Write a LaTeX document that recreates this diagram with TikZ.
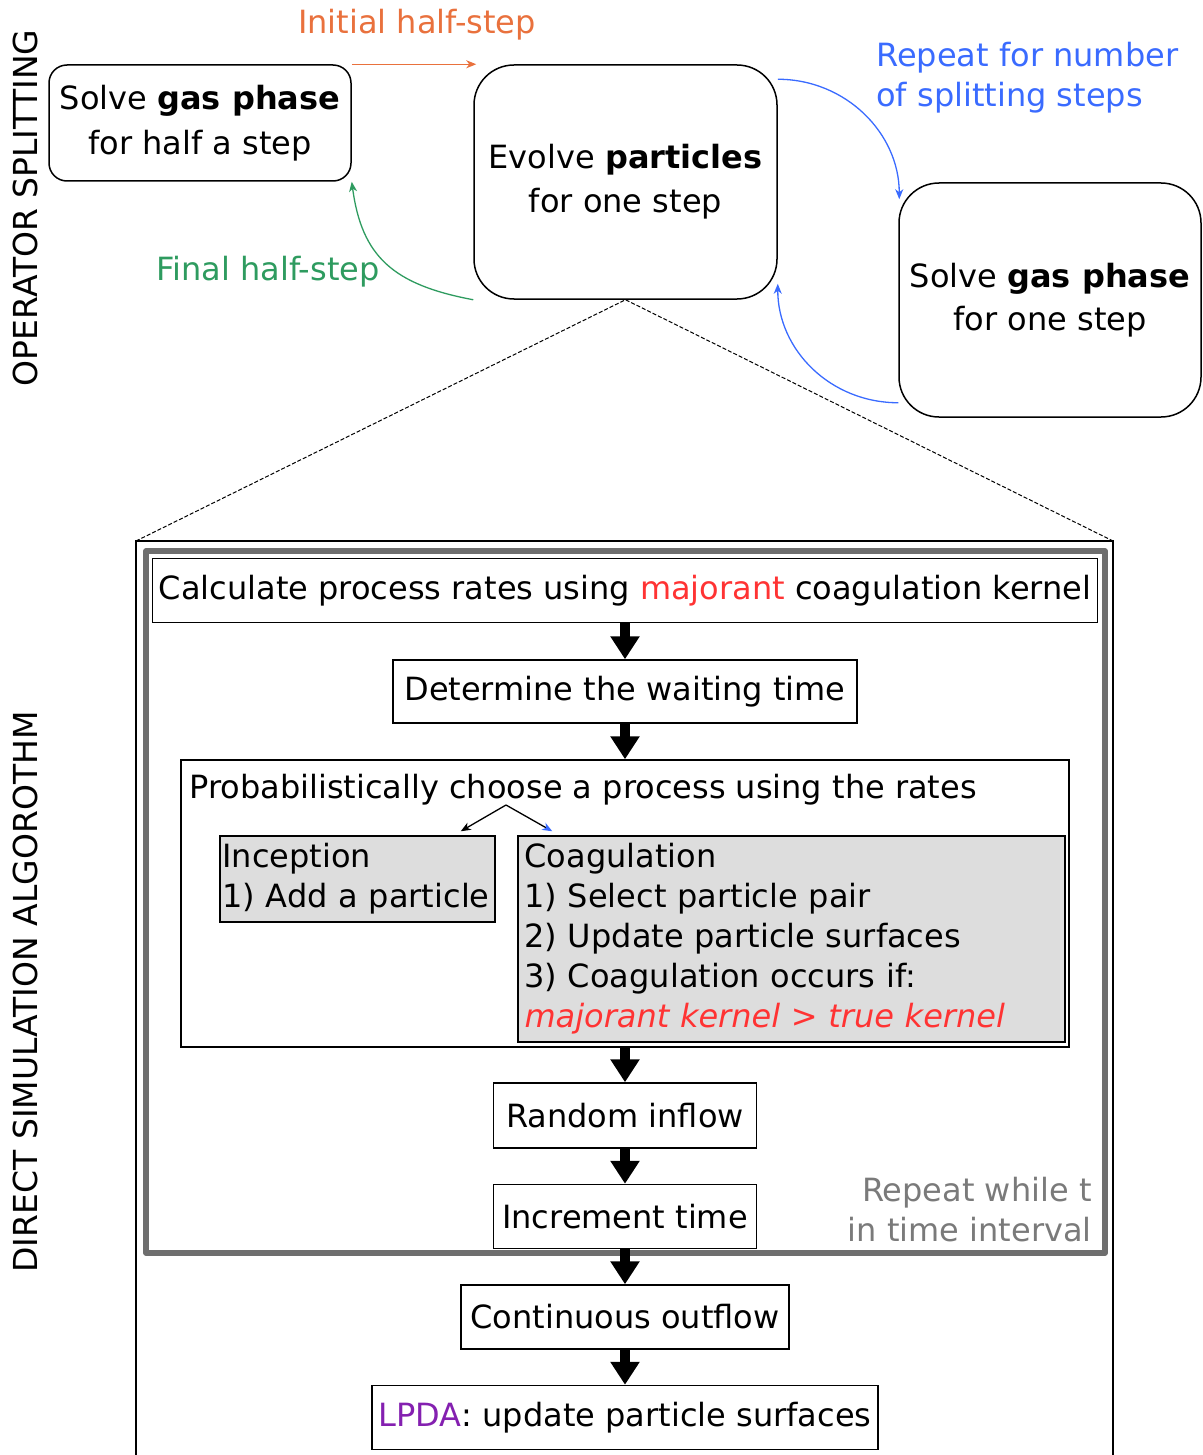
\documentclass[tikz,border=0pt]{standalone}
\usepackage{fontspec}
\setmainfont{DejaVu Sans}
\usetikzlibrary{arrows.meta}

\definecolor{inithalf}{HTML}{E9713D}
\definecolor{repeatblue}{HTML}{3A6BFF}
\definecolor{finalgreen}{HTML}{2E9B5F}
\definecolor{majred}{HTML}{FF3333}
\definecolor{lpdapurple}{HTML}{8420B0}
\definecolor{loopgray}{HTML}{6E6E6E}
\definecolor{looptext}{HTML}{7A7A7A}
\definecolor{procfill}{HTML}{DDDDDD}

\tikzset{
  every node/.style={font=\fontsize{16}{20}\selectfont},
  stepbox/.style={draw, line width=0.75pt, align=center, inner sep=0pt},
  flowbox/.style={draw, line width=0.75pt, align=center, inner sep=0pt},
  procbox/.style={draw, line width=0.75pt, fill=procfill, align=left, inner sep=0pt},
  bigarrow/.style={line width=5pt, -{Triangle[length=11.5pt,width=14pt]}},
  thinarrow/.style={line width=0.65pt, -{Stealth[length=5pt,width=4pt,inset=1.5pt]}},
  sidelabel/.style={rotate=90, font=\fontsize{16.5}{20}\selectfont},
}

\begin{document}
\begin{tikzpicture}[x=0.5pt,y=-0.5pt]
        \useasboundingbox (0,0) rectangle (1203,1455);

        % operator splitting
        \node[sidelabel] (opsplit) at (25,208) {OPERATOR SPLITTING};
        \node[sidelabel] (dsa) at (25,992) {DIRECT SIMULATION ALGOROTHM};

        \node[stepbox, rounded corners=9pt, minimum width=151pt, minimum height=58pt] (halfA) at (200,123)
            {Solve \textbf{gas phase}\\[2.5pt]for half a step};
        \node[stepbox, rounded corners=20pt, minimum width=151.5pt, minimum height=117pt] (partB) at (625.5,182)
            {Evolve \textbf{particles}\\[2pt]for one step};
        \node[stepbox, rounded corners=20pt, minimum width=151pt, minimum height=117pt] (gasC) at (1050,300)
            {Solve \textbf{gas phase}\\[1.5pt]for one step};

        \draw[thinarrow, inithalf] (halfA.north east) -- ([xshift=1.5pt]partB.north west);
        \node[inithalf] (initlbl) at (417,25) {Initial half-step};

        \draw[thinarrow, repeatblue] ([yshift=-7.5pt]partB.north east)
            .. controls +(68,0) and +(0,-66) .. ([xshift=0.5pt,yshift=-8.5pt]gasC.north west);
        \draw[thinarrow, repeatblue] ([yshift=7.5pt]gasC.south west)
            .. controls +(-68,0) and +(0,66) .. ([yshift=8pt]partB.south east);
        \node[repeatblue, align=left, anchor=west, inner sep=0pt] (replbl) at (876,78) {Repeat for number\\of splitting steps};

        \draw[thinarrow, finalgreen] (partB.south west)
            .. controls +(-80,-15) and +(10,75) .. (halfA.south east);
        \node[finalgreen] (finallbl) at (268,272) {Final half-step};

        % zoom into the particle step
        \coordinate (outerNW) at (136,541);
        \coordinate (outerNE) at (1113,541);
        \draw[dash pattern=on 2pt off 1pt, line width=0.5pt] (outerNW) -- (partB.south) -- (outerNE);
        \draw[line width=0.75pt] (136,1455) -- (outerNW) -- (outerNE) -- (1113,1455);
        \draw[loopgray, line width=2.7pt, line join=round] (146,551) rectangle (1105,1253);

        % direct simulation algorithm
        \node[flowbox, minimum width=472.5pt, minimum height=32pt] (calc) at (625,590.5)
            {Calculate process rates using \textcolor{majred}{majorant} coagulation kernel};
        \node[flowbox, minimum width=232pt, minimum height=31.5pt] (wait) at (625,691.5) {Determine the waiting time};
        \node[draw, line width=0.75pt, minimum width=444pt, minimum height=143.5pt] (choose) at (625,903.5) {};
        \node[anchor=west, inner sep=0pt] (choosetxt) at (189,790) {Probabilistically choose a process using the rates};
        \node[procbox, minimum width=137.5pt, minimum height=43pt, text width=135pt] (incep) at (357.5,879)
            {Inception\\1) Add a particle};
        \node[procbox, minimum width=273.5pt, minimum height=103pt, text width=267pt] (coag) at (791.5,939)
            {Coagulation\\1) Select particle pair\\2) Update particle surfaces\\3) Coagulation occurs if:\\
             \textcolor{majred}{\itshape majorant kernel > true kernel}};
        \coordinate (fork) at (506,805);
        \draw[thinarrow] (fork) -- ([xshift=-17.5pt,yshift=2pt]incep.north east);
        \draw[line width=0.65pt, -{Stealth[length=5pt,width=4pt,inset=1.5pt,color=repeatblue]}]
            (fork) -- ([xshift=17.5pt,yshift=2pt]coag.north west);

        \node[flowbox, minimum width=131.5pt, minimum height=32.5pt] (inflow) at (625,1115.5) {Random inflow};
        \node[flowbox, minimum width=131.5pt, minimum height=32pt] (incr) at (625,1216.5) {Increment time};
        \node[looptext, align=right, anchor=east, inner sep=0pt] (looplbl) at (1092,1210) {Repeat while t\\in time interval};
        \node[flowbox, minimum width=164pt, minimum height=32pt] (outflow) at (625,1317) {Continuous outflow};
        \node[flowbox, minimum width=253pt, minimum height=32pt] (lpda) at (625,1417.5)
            {\textcolor{lpdapurple}{LPDA}: update particle surfaces};

        \draw[bigarrow] (calc) -- (wait);
        \draw[bigarrow] (wait) -- (choose);
        \draw[bigarrow] (choose) -- (inflow);
        \draw[bigarrow] (inflow) -- (incr);
        \draw[bigarrow] (incr) -- (outflow);
        \draw[bigarrow] (outflow) -- (lpda);
\end{tikzpicture}
\end{document}
